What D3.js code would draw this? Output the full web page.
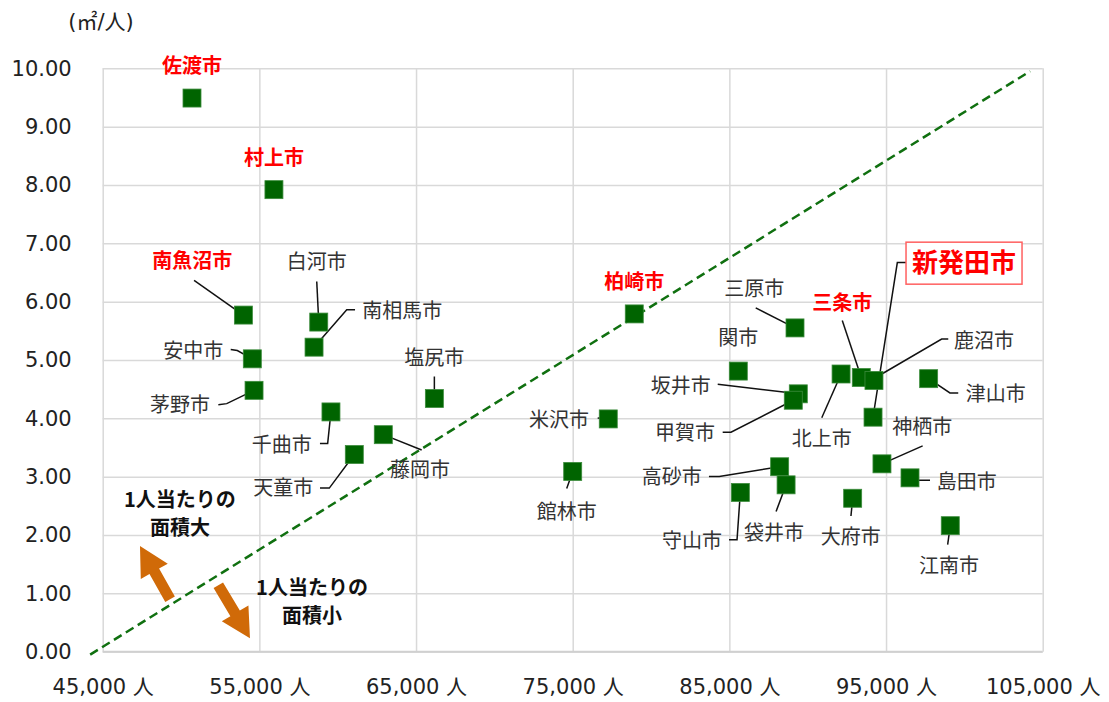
<!DOCTYPE html>
<head>
  <meta charset="utf-8">
  <script src="https://d3js.org/d3.v7.min.js"></script>
  <style>
    body { margin:0; background:#fff; }
    .tick text { font-family: "DejaVu Sans", "Noto Sans CJK JP", sans-serif; font-size: 21px; fill: #222; }
    .lbl { font-family: "Noto Sans CJK JP", sans-serif; font-size: 20px; fill: #333; }
  </style>
</head>
<body>
<script>
  var width = 1109, height = 702;
  var margin = {top: 68.3, right: 66.3, bottom: 50.3, left: 102.7};

  // 市の人口 (人) と 1人当たり面積 (㎡/人)
  var cities = ["佐渡市","村上市","南魚沼市","安中市","茅野市","白河市","南相馬市","千曲市","天童市","藤岡市",
                "塩尻市","柏崎市","米沢市","館林市","三原市","関市","坂井市","甲賀市","高砂市","袋井市",
                "守山市","北上市","三条市","鹿沼市","新発田市","津山市","神栖市","島田市","大府市","江南市"];
  var population = [50700,55930,53980,54550,54660,58790,58490,59570,61060,62910,
                    66170,78930,77270,75000,89190,85570,89400,89080,88210,88620,
                    85700,92130,93420,94230,94170,97720,94740,96530,92870,99100];
  var area = [9.49,7.92,5.77,5.02,4.48,5.65,5.22,4.11,3.38,3.72,
              4.34,5.79,3.99,3.09,5.55,4.81,4.42,4.31,3.17,2.86,
              2.73,4.76,4.70,4.65,4.02,4.68,3.22,2.98,2.63,2.16];
  var highlight = ["佐渡市","村上市","南魚沼市","柏崎市","三条市","新発田市"];

  var xTicks = [45000,55000,65000,75000,85000,95000,105000];
  var yTicks = [0,1,2,3,4,5,6,7,8,9,10];

  // 参考線 (破線)
  var refLine = [[44200,-0.05],[104200,9.95]];

  // ラベル位置 (点からのずれ, px) と引き出し線
  var labelPos = {
    "佐渡市":   {dx:0, dy:-32, a:"middle"},
    "村上市":   {dx:0, dy:-32, a:"middle"},
    "南魚沼市": {dx:-51, dy:-53.6, a:"middle", ld:[[-49.3,-34.6],[0,0]]},
    "安中市":   {dx:-29, dy:-8.3, a:"end", ld:[[-21.6,-9.3],[-15,-8.3],[0,0]]},
    "茅野市":   {dx:-44, dy:14.3, a:"end", ld:[[-35.7,14.3],[-27.3,13.3],[0,0]]},
    "白河市":   {dx:-2, dy:-59.6, a:"middle", ld:[[-2,-40.6],[0,0]]},
    "南相馬市": {dx:48.3, dy:-36.3, a:"start", ld:[[41,-37.3],[32.7,-37.3],[0,0]]},
    "千曲市":   {dx:-19.3, dy:32.7, a:"end", ld:[[-11,31.7],[-3.3,31.7],[0,0]]},
    "天童市":   {dx:-41, dy:33.6, a:"end", ld:[[-34.3,33.6],[-25,33.6],[0,0]]},
    "藤岡市":   {dx:36.7, dy:35.3, a:"middle", ld:[[0,0],[38.4,15.3]]},
    "塩尻市":   {dx:0, dy:-40.7, a:"middle", ld:[[0,-22],[0,0]]},
    "柏崎市":   {dx:0, dy:-31.6, a:"middle"},
    "米沢市":   {dx:-19.3, dy:0.7, a:"end", ld:[[-10.6,-1],[0,0]]},
    "館林市":   {dx:-6, dy:40.4, a:"middle", ld:[[-6,17],[0,0]]},
    "三原市":   {dx:-40.7, dy:-39, a:"middle", ld:[[-39.3,-20],[0,0]]},
    "関市":     {dx:0, dy:-33.3, a:"middle"},
    "坂井市":   {dx:-87.6, dy:-8.3, a:"end", ld:[[-80.6,-9.7],[0,0]]},
    "甲賀市":   {dx:-78.3, dy:32.6, a:"end", ld:[[-70.6,32],[-62.3,32],[0,0]]},
    "高砂市":   {dx:-78, dy:10.3, a:"end", ld:[[-70.7,9.7],[-60.4,9.7],[0,0]]},
    "袋井市":   {dx:-12, dy:48, a:"middle", ld:[[-10,26.7],[0,0]]},
    "守山市":   {dx:-18.3, dy:48.3, a:"end", ld:[[-11.3,47.3],[-3.3,47.3],[0,0]]},
    "北上市":   {dx:-19.3, dy:65, a:"middle", ld:[[-19.3,43.7],[0,0]]},
    "三条市":   {dx:-19, dy:-74.4, a:"middle", ld:[[-19,-57],[0,0]]},
    "鹿沼市":   {dx:80, dy:-39, a:"start", ld:[[74.3,-41.4],[67.7,-41.4],[2.7,-3.4]]},
    "新発田市": {dx:91, dy:-154, a:"middle", ld:[[33,-154.6],[24.3,-154.6],[0,0]], box:true},
    "津山市":   {dx:37, dy:15, a:"start", ld:[[0,0],[21.3,14.3],[29.6,14.3]]},
    "神栖市":   {dx:40.3, dy:-36.7, a:"middle", ld:[[40.7,-18],[0,0]]},
    "島田市":   {dx:26.7, dy:4, a:"start", ld:[[0,0],[6.7,2.3],[20,2.3]]},
    "大府市":   {dx:-2, dy:38.4, a:"middle", ld:[[0,0],[-1.7,17.7]]},
    "江南市":   {dx:-1.3, dy:40, a:"middle", ld:[[0,0],[-2.6,19]]}
  };

  // 矢印と説明文 (データ座標)
  var arrows = [[[49300,0.90],[47380,1.81]], [[52380,1.14],[54400,0.23]]];
  var notes = [
    {x:49930, y:2.60, t:"1人当たりの"}, {x:49930, y:2.12, t:"面積大"},
    {x:58360, y:1.09, t:"1人当たりの"}, {x:58360, y:0.61, t:"面積小"}
  ];

  var w = width - margin.left - margin.right,
      h = height - margin.top - margin.bottom;

  var svg = d3.select("body").append("svg")
      .attr("width", width).attr("height", height);

  var g = svg.append("g").attr("transform", "translate(" + margin.left + "," + margin.top + ")");

  var x = d3.scaleLinear().domain([45000,105000]).range([0,w]);
  var y = d3.scaleLinear().domain([0,10]).range([h,0]);

  // grid + axes
  var fmtX = d3.format(",");
  var xAxis = g.append("g").attr("transform", "translate(0," + h + ")")
      .call(d3.axisBottom(x).tickValues(xTicks).tickSize(-h).tickPadding(35)
            .tickFormat(function(d){ return fmtX(d) + " 人"; }));
  var yAxis = g.append("g")
      .call(d3.axisLeft(y).tickValues(yTicks).tickSize(-w).tickPadding(31)
            .tickFormat(d3.format(".2f")));
  [xAxis, yAxis].forEach(function(a){
    a.select(".domain").remove();
    a.selectAll(".tick line").attr("stroke", "#d9d9d9").attr("stroke-width", 1.5);
  });
  xAxis.selectAll(".tick text").attr("dy", "0.35em");
  g.append("line").attr("x1",0).attr("x2",w).attr("y1",h).attr("y2",h)
    .attr("stroke","#d0d0d0").attr("stroke-width",1.8);

  svg.append("text").attr("x", 101).attr("y", 22).attr("dy","0.35em")
    .attr("text-anchor","middle")
    .style("font-family", "\"DejaVu Sans\", \"Noto Sans CJK JP\", sans-serif")
    .style("font-size","21px").style("fill","#222").text("(㎡/人)");

  // 参考線
  g.append("path")
    .attr("d", d3.line().x(function(d){return x(d[0]);}).y(function(d){return y(d[1]);})(refLine))
    .attr("fill","none").attr("stroke","#107010").attr("stroke-width",2.5)
    .attr("stroke-dasharray","9,5");

  // 矢印
  arrows.forEach(function(a){
    var x0 = x(a[0][0]), y0 = y(a[0][1]), x1 = x(a[1][0]), y1 = y(a[1][1]);
    var len = Math.hypot(x1-x0, y1-y0), ux = (x1-x0)/len, uy = (y1-y0)/len;
    var px = -uy, py = ux, sw = 5.5, hw = 15.5, hl = 29;
    var bx = x1 - ux*hl, by = y1 - uy*hl;
    var pts = [
      [x0+px*sw, y0+py*sw], [bx+px*sw, by+py*sw], [bx+px*hw, by+py*hw], [x1, y1],
      [bx-px*hw, by-py*hw], [bx-px*sw, by-py*sw], [x0-px*sw, y0-py*sw]
    ];
    g.append("polygon").attr("points", pts.map(function(p){return p.join(",");}).join(" "))
      .attr("fill","#d06a08");
  });

  g.selectAll(".note").data(notes).enter().append("text")
    .attr("x", function(d){return x(d.x);}).attr("y", function(d){return y(d.y);})
    .attr("dy","0.35em").attr("text-anchor","middle")
    .style("font-family","\"Noto Sans CJK JP\", sans-serif").style("font-size","20px")
    .style("font-weight","bold").style("fill","#111")
    .text(function(d){return d.t;});

  var data = cities.map(function(c,i){ return {name:c, px:population[i], a:area[i]}; });

  // 引き出し線
  data.forEach(function(d){
    var L = labelPos[d.name], cx = x(d.px), cy = y(d.a);
    if (L.ld) {
      g.append("polyline")
        .attr("points", L.ld.map(function(p){ return (cx+p[0]) + "," + (cy+p[1]); }).join(" "))
        .attr("fill","none").attr("stroke","#111").attr("stroke-width",1.5);
    }
  });

  // 点
  var s = 18;
  g.selectAll(".pt").data(data).enter().append("rect")
    .attr("x", function(d){return x(d.px) - s/2;})
    .attr("y", function(d){return y(d.a) - s/2;})
    .attr("width", s).attr("height", s)
    .attr("fill","#006400").attr("stroke","#3c8c3c").attr("stroke-width",0.8);

  // ラベル
  data.forEach(function(d){
    var L = labelPos[d.name], cx = x(d.px), cy = y(d.a);
    var red = highlight.indexOf(d.name) >= 0;
    if (L.box) {
      g.append("rect").attr("x", cx+L.dx-58).attr("y", cy+L.dy-21)
        .attr("width",116).attr("height",42)
        .attr("fill","#fff").attr("stroke","#ff6060").attr("stroke-width",1.5);
    }
    g.append("text").attr("class","lbl")
      .attr("x", cx+L.dx).attr("y", cy+L.dy).attr("dy","0.35em")
      .attr("text-anchor", L.a)
      .style("fill", red ? "#ff0000" : "#333")
      .style("font-weight", red ? "bold" : "normal")
      .style("font-size", L.box ? "26px" : "20px")
      .text(d.name);
  });
</script>
</body>
